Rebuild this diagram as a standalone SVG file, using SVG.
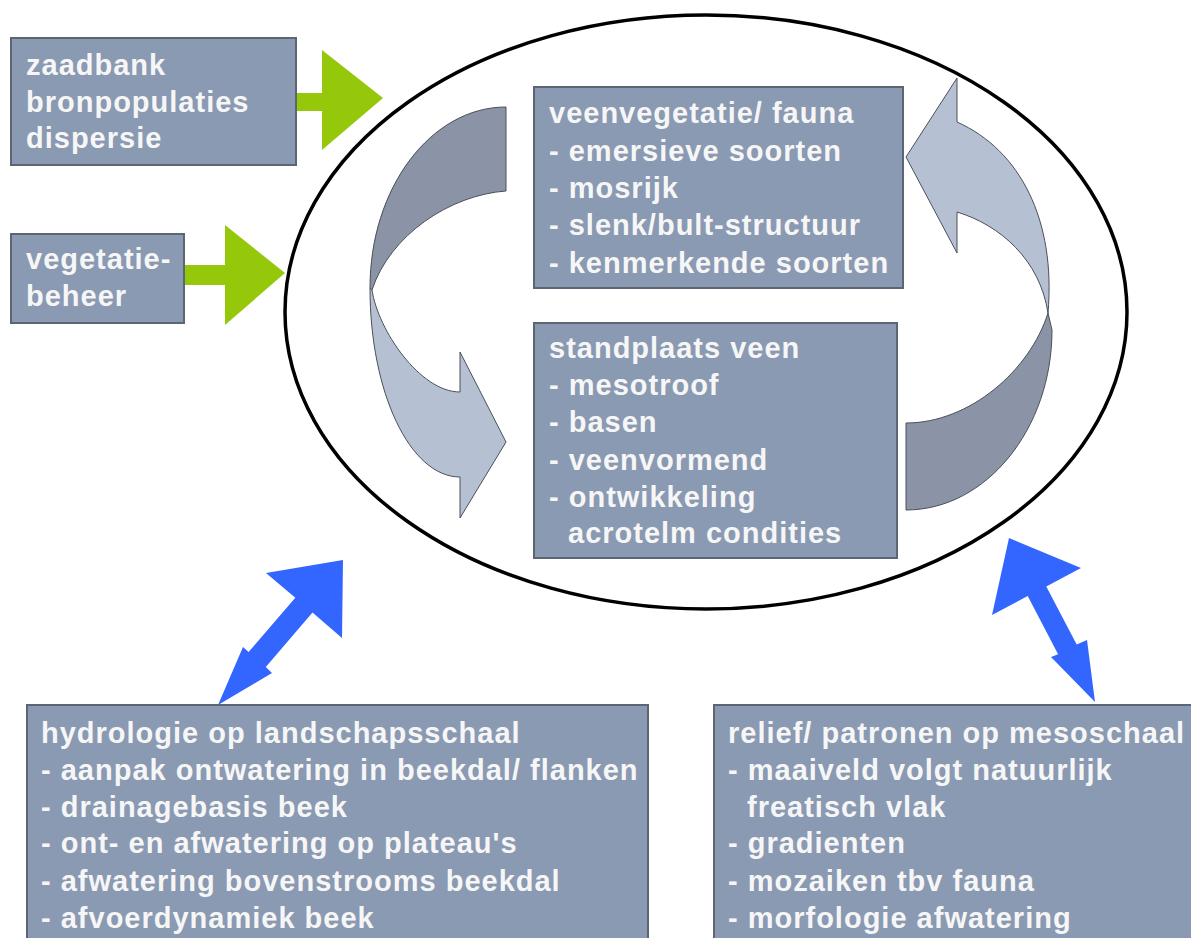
<svg xmlns="http://www.w3.org/2000/svg" width="1191" height="938" viewBox="0 0 1191 938">
<style>
.box{fill:#8a9ab2;stroke:#5c6572;stroke-width:2}
.t{font-family:"Liberation Sans",Arial,sans-serif;font-weight:bold;font-size:29px;fill:#f6f6f6;letter-spacing:1px}
.green{fill:#95c80a}
.blue{fill:#3366ff}
.dark{fill:#8b94a6;stroke:#4a4f58;stroke-width:1}
.light{fill:#b5c1d3;stroke:#4a4f58;stroke-width:1}
</style>
<rect width="1191" height="938" fill="#ffffff"/>
<ellipse cx="706" cy="312" rx="421" ry="297" fill="#ffffff" stroke="#000000" stroke-width="3.5"/>
<g id="connectors">
<polygon class="green" points="296,93 322,93 322,50 383,98 322,150 322,111 296,111"/>
<polygon class="green" points="184,265 225,265 225,225 285,273 225,325 225,285 184,285"/>
<polygon class="blue" points="343,560 342,638 312.5,612.6 265.8,666.9 272,673 218,705 243,647 248.6,652.1 295.3,597.8 266,573"/>
<polygon class="blue" points="1009,538 1081,568 1046.3,586.4 1076.7,644.4 1087,640 1095,702 1051,657 1058.1,654.2 1027.7,596.1 992,615"/>
<path class="dark" d="M506,107 L506,191 C450,195 390,235 372,290 L370,288 C370,188 431,107 506,107 Z"/>
<path class="light" d="M370,288 C370,392 410,477 460,477 L460,518 L506,442 L460,352 L460,392 C420,392 378,330 372,290 Z"/>
<path class="dark" d="M906,423 L906,510 C986,510 1052,429 1052,330 L1048,313 C1030,370 970,423 906,423 Z"/>
<path class="light" d="M1048,313 C1056,220 1020,150 957,122 L957,78 L906,157 L957,253 L957,212 C1000,225 1040,260 1048,313 Z"/>
</g>
<g id="zaadbank">
<rect class="box" x="11" y="38" width="285" height="127"/>
<text class="t" x="26" y="75">zaadbank</text>
<text class="t" x="26" y="112">bronpopulaties</text>
<text class="t" x="26" y="148">dispersie</text>
</g>
<g id="vegetatiebeheer">
<rect class="box" x="11" y="234" width="173" height="89"/>
<text class="t" x="26" y="269">vegetatie-</text>
<text class="t" x="26" y="306">beheer</text>
</g>
<g id="veenvegetatie">
<rect class="box" x="534" y="87" width="369" height="201"/>
<text class="t" x="549" y="123">veenvegetatie/ fauna</text>
<text class="t" x="549" y="161">- emersieve soorten</text>
<text class="t" x="549" y="198">- mosrijk</text>
<text class="t" x="549" y="235">- slenk/bult-structuur</text>
<text class="t" x="549" y="273">- kenmerkende soorten</text>
</g>
<g id="standplaats">
<rect class="box" x="534" y="323" width="363" height="235"/>
<text class="t" x="549" y="358">standplaats veen</text>
<text class="t" x="549" y="395">- mesotroof</text>
<text class="t" x="549" y="432">- basen</text>
<text class="t" x="549" y="470">- veenvormend</text>
<text class="t" x="549" y="507">- ontwikkeling</text>
<text class="t" x="568" y="543">acrotelm condities</text>
</g>
<g id="hydrologie">
<rect class="box" x="27" y="705" width="621" height="250"/>
<text class="t" x="41" y="743">hydrologie op landschapsschaal</text>
<text class="t" x="41" y="780">- aanpak ontwatering in beekdal/ flanken</text>
<text class="t" x="41" y="817">- drainagebasis beek</text>
<text class="t" x="41" y="853">- ont- en afwatering op plateau's</text>
<text class="t" x="41" y="891">- afwatering bovenstrooms beekdal</text>
<text class="t" x="41" y="928">- afvoerdynamiek beek</text>
</g>
<g id="relief">
<rect class="box" x="714" y="705" width="490" height="250"/>
<text class="t" x="728" y="743">relief/ patronen op mesoschaal</text>
<text class="t" x="728" y="780">- maaiveld volgt natuurlijk</text>
<text class="t" x="747" y="817">freatisch vlak</text>
<text class="t" x="728" y="853">- gradienten</text>
<text class="t" x="728" y="891">- mozaiken tbv fauna</text>
<text class="t" x="728" y="928">- morfologie afwatering</text>
</g>
</svg>
